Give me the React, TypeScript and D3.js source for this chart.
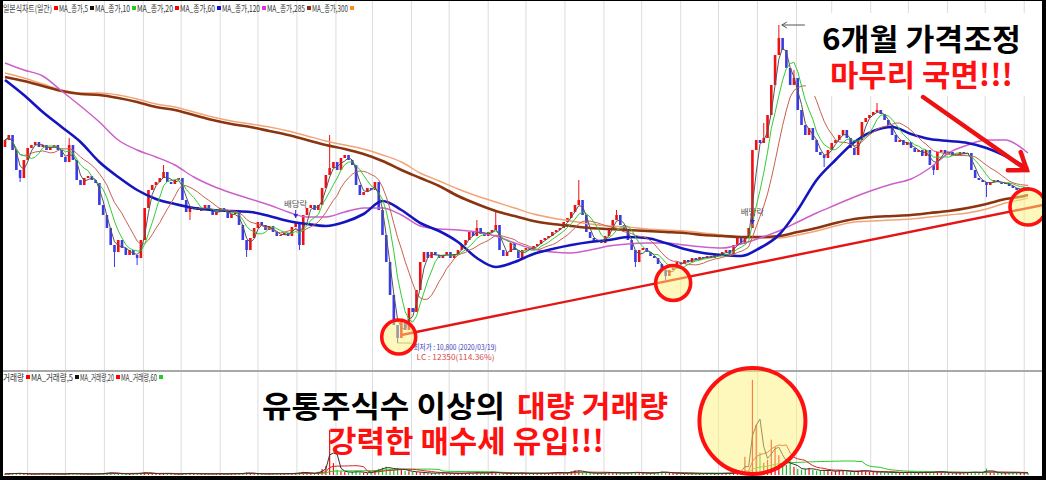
import React from "react";
import * as d3 from "d3";

const WIDTH = 1046;
const HEIGHT = 480;

// Each bar covers three calendar days of trading.
const FIRST_DAY = new Date(2019, 4, 14);
const DAYS_PER_BAR = 3;
const FIRST_OPEN = 12760;

const LOWEST_LOW = 10800;
const LOWEST_DATE = "2020/03/19";
const LC_RATIO = "114.36%";

// Closing prices (KRW), one per bar.
const closes: number[] = [
  12830, 12880, 12730, 12530, 12450, 12630, 12750, 12780, 12810, 12760,
  12780, 12730, 12760, 12780, 12730, 12660, 12610, 12780, 12630, 12430,
  12380, 12450, 12470, 12430, 12400, 12180, 12080, 11950, 11780, 11710,
  11830, 11750, 11680, 11730, 11680, 11650, 11830, 12150, 12330, 12380,
  12410, 12450, 12510, 12410, 12390, 12430, 12450, 12230, 12110, 12150,
  12160, 12130,
  12130, 12180, 12130, 12080, 12110, 12150, 12130, 12050, 12090, 12110,
  11980, 11830, 11730, 11850, 11950, 12010, 11980, 11930, 11970, 11910,
  11870, 11880, 11900, 11870, 11960, 12010, 11780, 12080, 12150, 12180,
  12130, 12180, 12350, 12480, 12550, 12610, 12530, 12650, 12680, 12630,
  12580, 12380, 12280, 12310, 12350, 12330, 12410, 12130, 11880, 11610,
  11280, 10980, 10850, 11030, 10930, 11150, 11110, 11330, 11610, 11710,
  11650, 11710, 11680, 11650, 11680, 11710, 11650, 11690, 11730, 11780,
  11830, 11910, 11870, 11950, 11890, 11870, 11910, 11930, 11980, 11730,
  11670, 11710, 11800, 11730, 11650, 11730, 11750, 11730, 11770, 11790,
  11830, 11850, 11870, 11910, 11930, 11950, 12010, 12050, 12110, 12180,
  12230, 12080, 11910, 11850, 11810, 11830, 11800, 11870, 11950, 12030,
  12080, 11980, 11930, 11830, 11730, 11610, 11730, 11750, 11710, 11670,
  11650, 11590, 11530, 11470, 11530, 11550, 11610, 11590, 11630, 11610,
  11650, 11630, 11660, 11650, 11670, 11650, 11690, 11670, 11710, 11730,
  11690, 11780, 11850, 11790, 11850, 11950, 12730, 12830, 12800, 12850,
  13080, 13380, 13680, 13850, 13730, 13550, 13380, 13450, 13130, 12980,
  12880, 12950, 12830, 12710, 12680, 12650, 12730, 12800, 12830, 12880,
  12930, 12850, 12750, 12680, 12830, 13010, 13050, 13080, 13110, 13130,
  13090, 13030, 12980, 12880, 12810, 12830, 12780, 12810, 12750, 12710,
  12730, 12670, 12730, 12580, 12530, 12710, 12730, 12690, 12710, 12670,
  12680, 12710, 12690, 12700, 12530, 12450, 12430, 12410, 12380, 12410,
  12430, 12410, 12390, 12400, 12370, 12350, 12330, 12340, 12360, 12350,
];

// Bars whose high / low reaches beyond the body: [bar, price].
const highWicks: [number, number][] = [
  [17, 12850], [42, 12580], [86, 12880], [125, 12030], [130, 12130], [152, 12430],
  [162, 12130], [201, 13000], [205, 13980], [209, 13530], [231, 13200],
];
const lowWicks: [number, number][] = [
  [4, 12410], [29, 11560], [35, 11580], [49, 12030], [64, 11660], [78, 11730],
  [104, LOWEST_LOW], [167, 11560], [175, 11430], [217, 12560], [246, 12480], [260, 12260],
];

// Volume, thousand shares per bar.
const volumes: number[] = [
  110, 130, 190, 140, 170, 120, 100, 80, 110, 130,
  120, 90, 130, 140, 70, 110, 120, 200, 130, 110,
  130, 80, 110, 130, 80, 140, 190, 210, 250, 190,
  140, 120, 110, 130, 130, 180, 200, 270, 200, 140,
  120, 110, 170, 130, 110, 70, 110, 140, 190, 140,
  130, 110,
  130, 110, 80, 120, 140, 110, 80, 130, 170, 120,
  140, 190, 250, 180, 130, 110, 110, 80, 120, 130,
  110, 140, 130, 170, 130, 200, 250, 310, 190, 140,
  190, 320, 610, 890, 4520, 1190, 500, 370, 290, 250,
  310, 380, 260, 230, 190, 290, 490, 620, 730, 830,
  620, 490, 710, 550, 420, 370, 320, 290, 250, 230,
  200, 170, 190, 250, 180, 170, 190, 140, 170, 190,
  190, 230, 170, 310, 200, 180, 250, 350, 200, 170,
  180, 160, 130, 190, 170, 200, 140, 170, 190, 160,
  170, 190, 180, 250, 290, 230, 190, 250, 370, 470,
  430, 260, 230, 190, 170, 180, 200, 230, 280, 190,
  250, 200, 170, 230, 310, 250, 230, 190, 180, 170,
  230, 290, 350, 250, 200, 190, 170, 140, 130, 120,
  130, 110, 130, 140, 170, 130, 120, 160, 180, 170,
  190, 250, 470, 260, 1820, 380, 9520, 5030, 2240, 1230,
  1510, 3540, 2810, 1980, 1220, 1010, 1390, 820, 610, 540,
  620, 710, 520, 430, 410, 530, 420, 330, 410, 480,
  420, 380, 330, 310, 410, 490, 400, 320, 290, 300,
  300, 280, 230, 290, 220, 210, 270, 300, 240, 220,
  210, 280, 310, 230, 300, 390, 300, 240, 210, 200,
  220, 200, 230, 270, 290, 300, 240, 280, 640, 310,
  230, 210, 200, 220, 190, 260, 210, 200, 230, 220,
];

// Long moving averages, sampled every 5 bars (the last sample is the final bar).
const LONG_MA_STEP = 5;
const ma120: number[] = [
  13430, 13280, 13110, 12960, 12810, 12610, 12460, 12330, 12240, 12190,
  12150, 12130, 12120, 12110, 12070, 12020, 11990, 11970, 12010, 12090,
  12220, 12130, 12000, 11920, 11810, 11650, 11560, 11610, 11690, 11740,
  11780, 11810, 11830, 11860, 11850, 11800, 11740, 11700, 11680, 11670,
  11750, 11880, 12130, 12430, 12630, 12810, 12920, 12960, 12890, 12840,
  12820, 12800, 12750, 12670, 12570, 12550,
];
const ma285: number[] = [
  13600, 13530, 13470, 13320, 13170, 13010, 12830, 12730, 12660, 12580,
  12460, 12370, 12300, 12240, 12180, 12110, 12060, 12060, 12110, 12150,
  12150, 12080, 11970, 11940, 11930, 11910, 11870, 11800, 11740, 11710,
  11700, 11730, 11770, 11790, 11800, 11800, 11780, 11760, 11750, 11790,
  11850, 11920, 12010, 12100, 12180, 12260, 12330, 12390, 12440, 12550,
  12700, 12780, 12830, 12830, 12730, 12700,
];
const ma300: number[] = [
  13460, 13420, 13370, 13320, 13290, 13280, 13250, 13210, 13160, 13130,
  13080, 13030, 12990, 12960, 12920, 12880, 12830, 12780, 12740, 12690,
  12620, 12530, 12450, 12370, 12270, 12190, 12120, 12070, 12020, 11990,
  11970, 11950, 11940, 11930, 11920, 11910, 11900, 11880, 11870, 11860,
  11860, 11870, 11910, 11950, 12000, 12040, 12060, 12070, 12080, 12100,
  12120, 12150, 12190, 12240, 12270, 12280,
];
const maOrange: number[] = [
  13500, 13450, 13390, 13330, 13300, 13300, 13280, 13240, 13190, 13160,
  13110, 13060, 13020, 12990, 12960, 12920, 12870, 12820, 12780, 12740,
  12680, 12610, 12500, 12420, 12340, 12270, 12210, 12150, 12090, 12050,
  12020, 11990, 11970, 11960, 11940, 11930, 11920, 11900, 11880, 11860,
  11850, 11850, 11880, 11920, 11970, 12010, 12020, 12030, 12040, 12060,
  12080, 12100, 12140, 12200, 12240, 12250,
];

const priceLegendTitle = "일본식차트(일간)";
const priceLegendLabels = ["MA_종가,5", "MA_종가,10", "MA_종가,20", "MA_종가,60", "MA_종가,120", "MA_종가,285", "MA_종가,300", ""];
const priceLegendColors = ["#ff0000", "#111111", "#22cc22", "#ff0000", "#1010cc", "#dd33dd", "#8b2e0e", "#ff8c1a"];
const volLegendTitle = "거래량";
const volLegendLabels = ["MA_거래량,5", "MA_거래량,20", "MA_거래량,60", ""];
const volLegendColors = ["#ff0000", "#111111", "#ff0000", "#22cc22"];

const headline1 = "6개월 가격조정";
const headline2 = "마무리 국면!!!";
const volNoteBlack = "유통주식수 이상의";
const volNoteRed = "대량 거래량";
const volNote2 = "강력한 매수세 유입!!!";
const exDividend = "배당락";

const KR = "'Noto Sans CJK KR', 'Noto Sans', sans-serif";
const RED = "#ff1010";

function sma(vals: number[], n: number): number[] {
  return vals.map((_, i) => d3.mean(vals.slice(Math.max(0, i - n + 1), i + 1)) as number);
}

export default function App() {
  const last = closes.length - 1;
  const dateOf = (bar: number) => new Date(FIRST_DAY.getTime() + bar * DAYS_PER_BAR * 864e5);
  const x = d3.scaleTime().domain([dateOf(0), dateOf(last)]).range([5, 1028]);
  const xb = (bar: number) => x(dateOf(bar));
  const yP = d3.scaleLinear().domain([10550, 14110]).range([368, 12]);
  const yV = d3.scaleLinear().domain([0, 10000]).range([475, 375]);

  const highMap = new Map(highWicks);
  const lowMap = new Map(lowWicks);
  const bars = closes.map((c, i) => {
    const o = i === 0 ? FIRST_OPEN : closes[i - 1];
    const hi = Math.max(o, c, highMap.get(i) ?? -Infinity);
    const lo = Math.min(o, c, lowMap.get(i) ?? Infinity);
    return { i, o, c, hi, lo, up: c >= o, v: volumes[i] };
  });

  const line = d3.line<[number, number]>().x((d) => d[0]).y((d) => d[1]);
  const smooth = d3
    .line<[number, number]>()
    .x((d) => d[0])
    .y((d) => d[1])
    .curve(d3.curveMonotoneX);
  const barPath = (vals: number[], y: (v: number) => number) =>
    line(vals.map((v, i) => [xb(i), y(v)] as [number, number])) || "";
  const longPath = (vals: number[]) =>
    smooth(vals.map((v, k) => [xb(Math.min(k * LONG_MA_STEP, last)), yP(v)] as [number, number])) || "";

  const months = d3.timeMonth.range(d3.timeMonth.ceil(dateOf(0)), dateOf(last + 1));

  // support line through the two lows
  const trendA = { bar: 105, price: 10880 };
  const trendB = { bar: 275, price: 12180 };

  // arrow toward the latest bars
  const arrowFrom = { bar: 243.2, price: 13260 };
  const arrowTo = { bar: 270.7, price: 12530 };
  const ax1 = xb(arrowFrom.bar), ay1 = yP(arrowFrom.price);
  const ax2 = xb(arrowTo.bar), ay2 = yP(arrowTo.price);
  const ang = Math.atan2(ay2 - ay1, ax2 - ax1);
  const head = 19;
  const spread = (36 * Math.PI) / 180;
  const armA = [ax2 - head * Math.cos(ang - spread), ay2 - head * Math.sin(ang - spread)];
  const armB = [ax2 - head * Math.cos(ang + spread), ay2 - head * Math.sin(ang + spread)];

  const highlights = [
    { cx: xb(104.3), cy: yP(10860), r: 17 },
    { cx: xb(177), cy: yP(11400), r: 17.5 },
    { cx: xb(271), cy: yP(12160), r: 18 },
  ];
  const volHighlight = { cx: xb(198), cy: yV(5400), r: 53 };

  const exDivMarks = [
    { bar: 77, price: 12160, tip: 12050 },
    { bar: 198, price: 12080, tip: 11990 },
  ];

  // legend layout
  const priceLegendWidths = [29, 35, 36, 35, 38, 38, 36, 0];
  const volLegendWidths = [42, 34, 36, 0];
  const legendItems = (startX: number, widths: number[]) => {
    let cursor = startX;
    return widths.map((w) => {
      const sq = cursor + 2;
      const tx = cursor + 7;
      cursor = tx + w;
      return { sq, tx };
    });
  };
  const pItems = legendItems(52, priceLegendWidths);
  const vItems = legendItems(24, volLegendWidths);

  const peakBar = 205;
  const lowBar = 104;

  return (
    <svg
      width={WIDTH}
      height={HEIGHT}
      style={{ position: "absolute", left: 0, top: 0, background: "#fff" }}
      fontFamily={KR}
    >
      <rect x={0} y={0} width={WIDTH} height={HEIGHT} fill="#fff" />

      {/* month gridlines */}
      {months.map((m) => (
        <line key={+m} x1={x(m)} x2={x(m)} y1={0} y2={476} stroke="#dcdcdc" strokeWidth={1} />
      ))}
      <line x1={3} x2={1042} y1={371} y2={371} stroke="#a8a8a8" strokeWidth={2} />

      {/* candles */}
      <g>
        {bars.map((b) => {
          const cx = xb(b.i);
          const top = yP(Math.max(b.o, b.c));
          const bot = yP(Math.min(b.o, b.c));
          const col = b.up ? "#f01010" : "#3a3ae6";
          return (
            <g key={b.i}>
              <line x1={cx} x2={cx} y1={yP(b.hi)} y2={yP(b.lo)} stroke={col} strokeWidth={1} />
              <rect x={cx - 1.3} y={top} width={2.6} height={Math.max(1, bot - top)} fill={col} />
            </g>
          );
        })}
      </g>

      {/* moving averages */}
      <path d={longPath(maOrange)} fill="none" stroke="#f2a474" strokeWidth={1.4} />
      <path d={longPath(ma300)} fill="none" stroke="#8b3410" strokeWidth={2.6} />
      <path d={longPath(ma285)} fill="none" stroke="#cc5fcc" strokeWidth={1.5} />
      <path d={longPath(ma120)} fill="none" stroke="#1515c0" strokeWidth={2.6} />
      <path d={barPath(sma(closes, 11), yP)} fill="none" stroke="#c8604e" strokeWidth={1} />
      <path d={barPath(sma(closes, 6), yP)} fill="none" stroke="#33cc33" strokeWidth={1} />
      <path d={barPath(sma(closes, 3), yP)} fill="none" stroke="#555555" strokeWidth={1} />

      {/* volume */}
      <g>
        {bars.map((b) => (
          <rect
            key={b.i}
            x={xb(b.i) - 0.6}
            y={yV(b.v)}
            width={1.2}
            height={475 - yV(b.v)}
            fill={b.up ? "#ee1111" : "#22bb22"}
          />
        ))}
      </g>
      <path d={barPath(sma(volumes, 30), yV)} fill="none" stroke="#22cc22" strokeWidth={1} />
      <path d={barPath(sma(volumes, 10), yV)} fill="none" stroke="#dd2222" strokeWidth={1} />
      <path d={barPath(sma(volumes, 3), yV)} fill="none" stroke="#333333" strokeWidth={1} />

      {/* support trendline */}
      <line
        x1={xb(trendA.bar)}
        y1={yP(trendA.price)}
        x2={xb(trendB.bar)}
        y2={yP(trendB.price)}
        stroke="#e51515"
        strokeWidth={2.4}
      />

      {/* ex-dividend markers */}
      {exDivMarks.map((e) => (
        <g key={e.bar}>
          <text x={xb(e.bar)} y={yP(e.price)} fontSize={8.5} fill="#555" textAnchor="middle">
            {exDividend}
          </text>
          <line x1={xb(e.bar)} x2={xb(e.bar)} y1={yP(e.price) + 3} y2={yP(e.tip)} stroke="#2a2ad0" strokeWidth={1} />
          <path
            d={`M${xb(e.bar) - 2.5},${yP(e.tip) - 4} L${xb(e.bar) + 2.5},${yP(e.tip) - 4} L${xb(e.bar)},${yP(e.tip)} Z`}
            fill="#2a2ad0"
          />
        </g>
      ))}

      {/* highest price marker */}
      <line x1={xb(peakBar) + 3} x2={xb(peakBar) + 26} y1={yP(13980)} y2={yP(13980)} stroke="#555" strokeWidth={1} />
      <path
        d={`M${xb(peakBar) + 3},${yP(13980)} l5,-3 M${xb(peakBar) + 3},${yP(13980)} l5,3`}
        stroke="#555"
        strokeWidth={1}
        fill="none"
      />

      {/* lowest price label */}
      <line x1={xb(lowBar)} x2={xb(lowBar) + 14} y1={yP(LOWEST_LOW)} y2={yP(LOWEST_LOW)} stroke="#777" strokeWidth={0.8} />
      <text x={xb(lowBar) + 16} y={yP(LOWEST_LOW) + 7} fontSize={8} fill="#3838b8" textLength={83} lengthAdjust="spacingAndGlyphs">
        {`최저가 : ${d3.format(",")(LOWEST_LOW)} (${LOWEST_DATE})`}
      </text>
      <text x={xb(lowBar) + 19} y={yP(LOWEST_LOW) + 17} fontSize={8} fill="#d84a4a" textLength={78} lengthAdjust="spacingAndGlyphs">
        {`LC : ${closes[last]}(${LC_RATIO})`}
      </text>

      {/* highlight circles */}
      {[...highlights, volHighlight].map((h, k) => (
        <circle key={`f${k}`} cx={h.cx} cy={h.cy} r={h.r} fill="#fff27a" fillOpacity={0.5} />
      ))}
      {highlights.map((h, k) => (
        <circle key={`r${k}`} cx={h.cx} cy={h.cy} r={h.r} fill="none" stroke={RED} strokeWidth={3.6} />
      ))}
      <circle cx={volHighlight.cx} cy={volHighlight.cy} r={volHighlight.r} fill="none" stroke={RED} strokeWidth={4} />

      {/* headline box */}
      <rect x={806} y={13} width={235} height={83} fill="#fff" />
      <text x={822} y={50} fontSize={30} fontWeight={700} fill="#000" textLength={199} lengthAdjust="spacingAndGlyphs">
        {headline1}
      </text>
      <text x={830} y={86} fontSize={30} fontWeight={700} fill={RED} textLength={183} lengthAdjust="spacingAndGlyphs">
        {headline2}
      </text>

      {/* down arrow */}
      <g stroke="#ee1111" strokeWidth={4.5} strokeLinecap="round" fill="none">
        <line x1={ax1} y1={ay1} x2={ax2} y2={ay2} />
        <polyline points={`${armA[0]},${armA[1]} ${ax2},${ay2} ${armB[0]},${armB[1]}`} />
      </g>

      {/* volume notes */}
      <text x={262} y={417} fontSize={30} fontWeight={700} fill="#000" textLength={243} lengthAdjust="spacingAndGlyphs">
        {volNoteBlack}
      </text>
      <text x={517} y={417} fontSize={30} fontWeight={700} fill={RED} textLength={151} lengthAdjust="spacingAndGlyphs">
        {volNoteRed}
      </text>
      <text x={328} y={452} fontSize={30} fontWeight={700} fill={RED} textLength={276} lengthAdjust="spacingAndGlyphs">
        {volNote2}
      </text>

      {/* legends */}
      <g fontSize={9} fill="#333">
        <text x={3} y={12} textLength={49} lengthAdjust="spacingAndGlyphs">
          {priceLegendTitle}
        </text>
        {pItems.map((it, k) => (
          <g key={k}>
            <rect x={it.sq} y={6} width={4} height={4} fill={priceLegendColors[k]} />
            {priceLegendLabels[k] && (
              <text x={it.tx} y={12} textLength={priceLegendWidths[k]} lengthAdjust="spacingAndGlyphs">
                {priceLegendLabels[k]}
              </text>
            )}
          </g>
        ))}
        <text x={3} y={381} textLength={21} lengthAdjust="spacingAndGlyphs">
          {volLegendTitle}
        </text>
        {vItems.map((it, k) => (
          <g key={`v${k}`}>
            <rect x={it.sq} y={375} width={4} height={4} fill={volLegendColors[k]} />
            {volLegendLabels[k] && (
              <text x={it.tx} y={381} textLength={volLegendWidths[k]} lengthAdjust="spacingAndGlyphs">
                {volLegendLabels[k]}
              </text>
            )}
          </g>
        ))}
      </g>

      {/* frame */}
      <rect x={0} y={0} width={3} height={HEIGHT} fill="#000" />
      <rect x={1042} y={0} width={4} height={HEIGHT} fill="#000" />
      <rect x={0} y={476} width={WIDTH} height={4} fill="#000" />
      <rect x={0} y={0} width={WIDTH} height={1} fill="#000" />
    </svg>
  );
}
